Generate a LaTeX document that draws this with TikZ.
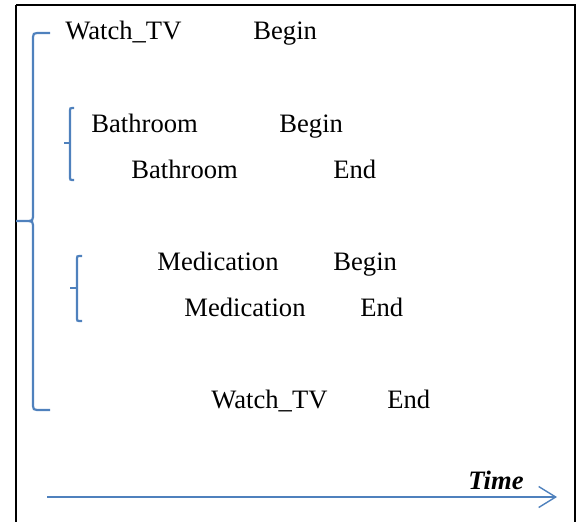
\documentclass[tikz,border=0pt]{standalone}
\usepackage{fontspec}
\setmainfont{Liberation Serif}
\usetikzlibrary{arrows.meta}
\definecolor{brblue}{RGB}{79,129,189}
\tikzset{
  lbl/.style={anchor=base west, inner sep=0pt, font=\fontsize{13.3}{15}\selectfont},
  brk/.style={draw=brblue, line width=1.1pt},
  frame/.style={draw=black, line width=1pt},
  timearrow/.style={draw=brblue, line width=0.7pt, -{Straight Barb[length=8.5pt,width=10.5pt,line width=0.7pt]}}
}
\begin{document}
\begin{tikzpicture}[x=0.5pt,y=-0.5pt]
\useasboundingbox (0,0) rectangle (578,521);
\clip (0,0) rectangle (578,521);
\draw[frame] (16,5) -- (575,5) -- (575,540);
\draw[frame] (16,5) -- (16,540);
% text
\node[lbl] (w1) at (65,39.5) {Watch\_TV};
\node[lbl] (b1) at (253,39.5) {Begin};
\node[lbl] (ba1) at (91,132.5) {Bathroom};
\node[lbl] (b2) at (279,132.5) {Begin};
\node[lbl] (ba2) at (131,178.5) {Bathroom};
\node[lbl] (e1) at (333,178.5) {End};
\node[lbl] (m1) at (157,270.5) {Medication};
\node[lbl] (b3) at (333,270.5) {Begin};
\node[lbl] (m2) at (184,316.5) {Medication};
\node[lbl] (e2) at (360,316.5) {End};
\node[lbl] (w2) at (211,408.5) {Watch\_TV};
\node[lbl] (e3) at (387,408.5) {End};
\node[lbl, font=\fontsize{13.3}{15}\selectfont\bfseries\itshape] (time) at (468,489.5) {Time};
% big brace
\draw[brk] (50,33) -- (37,33) .. controls (34,33) and (33,34) .. (33,37) -- (33,217)
  .. controls (33,220) and (32,221) .. (29,221) -- (16,221);
\draw[brk] (29,221) .. controls (32,221) and (33,222) .. (33,225) -- (33,406)
  .. controls (33,409) and (34,410) .. (37,410) -- (50,410);
% bathroom bracket
\draw[brk] (74,108) -- (72,108) .. controls (70.5,108) and (70,108.5) .. (70,110) -- (70,178)
  .. controls (70,179.5) and (70.5,180) .. (72,180) -- (74,180);
\draw[brk] (64,143) -- (70,143);
% medication bracket
\draw[brk] (82,256) -- (79,256) .. controls (77.5,256) and (77,256.5) .. (77,258) -- (77,319)
  .. controls (77,320.5) and (77.5,321) .. (79,321) -- (82,321);
\draw[brk] (70,288) -- (77,288);
% time arrow
\coordinate (ts) at (47,497);
\coordinate (te) at (557,497);
\draw[timearrow] (ts) -- (te);
\end{tikzpicture}
\end{document}
